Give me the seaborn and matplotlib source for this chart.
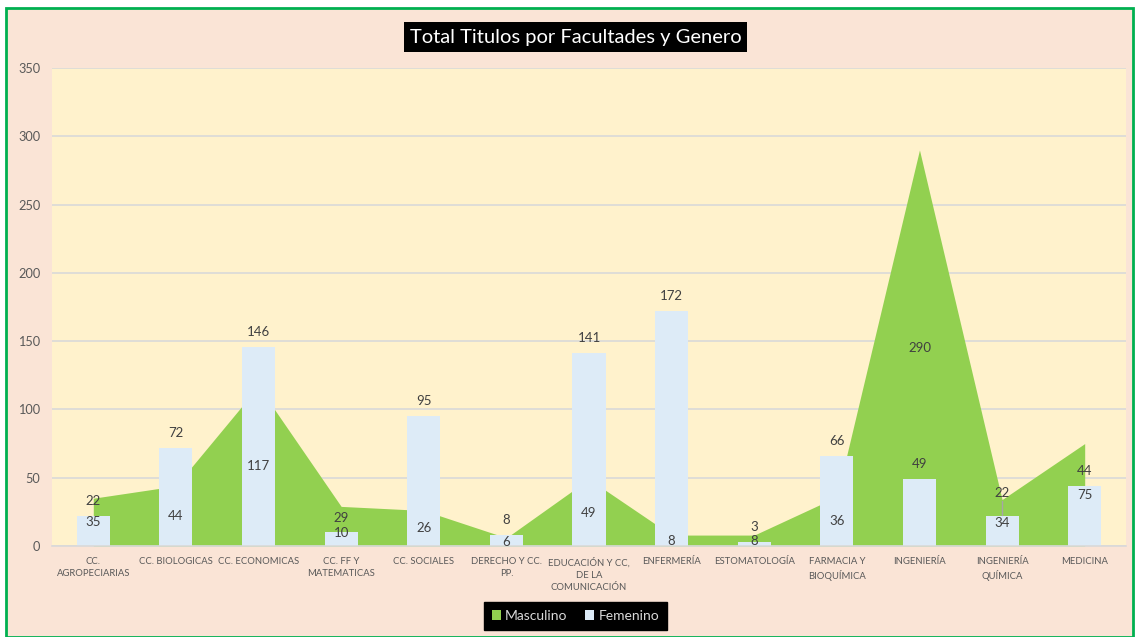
import numpy as np
import pandas as pd
import matplotlib
matplotlib.use("Agg")
import matplotlib.pyplot as plt
from matplotlib.patches import Rectangle, Patch
import seaborn as sns

# data
facultades = [
    "CC.\nAGROPECIARIAS", "CC. BIOLOGICAS", "CC. ECONOMICAS", "CC. FF Y\nMATEMATICAS",
    "CC. SOCIALES", "DERECHO Y CC.\nPP.", "EDUCACIÓN Y CC,\nDE LA\nCOMUNICACIÓN",
    "ENFERMERÍA", "ESTOMATOLOGÍA", "FARMACIA Y\nBIOQUÍMICA", "INGENIERÍA",
    "INGENIERÍA\nQUÍMICA", "MEDICINA",
]
masculino = [35, 44, 117, 29, 26, 6, 49, 8, 8, 36, 290, 34, 75]
femenino = [22, 72, 146, 10, 95, 8, 141, 172, 3, 66, 49, 22, 44]
y_ticks = [0, 50, 100, 150, 200, 250, 300, 350]

GREEN = "#92D050"
BLUE = "#DDEBF7"
PLOT_BG = "#FFF2CC"
FIG_BG = "#FAE4D6"
TXT = "#595959"
LBL = "#404040"

sns.set_theme(style="white")
plt.rcParams['font.family'] = ['Lato', 'DejaVu Sans']

df = pd.DataFrame({"facultad": facultades, "Masculino": masculino, "Femenino": femenino})

fig = plt.figure(figsize=(11.35, 6.37), dpi=100)
fig.patch.set_facecolor("white")
# pink panel with green border
fig.patches.append(Rectangle((6 / 1135, 0), 1127 / 1135, 629 / 637, transform=fig.transFigure,
                             facecolor=FIG_BG, edgecolor="#00B050", linewidth=2, zorder=-10))

ax = fig.add_axes([52 / 1135, 91 / 637, 1074 / 1135, 478 / 637])
ax.set_facecolor(PLOT_BG)

x = np.arange(len(facultades))
ax.fill_between(x, 0, df["Masculino"], color=GREEN, linewidth=0, zorder=1)
sns.barplot(data=df, x="facultad", y="Femenino", color=BLUE, width=0.4,
            saturation=1, ax=ax, zorder=2, edgecolor="none")

ax.set_xlim(-0.5, len(facultades) - 0.5)
ax.set_ylim(0, 350)
ax.set_yticks(y_ticks)
ax.yaxis.grid(True, color="#D9D9D9", linewidth=1.2, zorder=0)
ax.set_axisbelow(True)
for s in ["top", "right", "left"]:
    ax.spines[s].set_visible(False)
ax.spines["bottom"].set_color("#D9D9D9")
ax.spines["bottom"].set_linewidth(1.2)
ax.set_xlabel("")
ax.set_ylabel("")
ax.tick_params(axis="y", colors=TXT, labelsize=9.2, length=0, pad=8.5)
ax.tick_params(axis="x", colors=TXT, labelsize=6.8, length=0, pad=8)
for lbl in ax.get_xticklabels():
    lbl.set_linespacing(1.45)
    lbl.set_verticalalignment("top")

# data labels (a few were nudged by hand in the original)
fem_pos = {3: 9.5, 11: 39}
mas_pos = {3: 20.5}
for i, (m, f) in enumerate(zip(masculino, femenino)):
    fy = fem_pos.get(i, f + 11)
    ax.text(i, fy, str(f), ha="center", va="center", fontsize=9.5, color=LBL, zorder=5)
    ax.text(i, mas_pos.get(i, max(m / 2, 3)), str(m), ha="center", va="center",
            fontsize=9.5, color=LBL, zorder=5)
# leader line of the moved label
ax.plot([11, 11], [femenino[11] + 0.5, fem_pos[11] - 6], color="#A6A6A6", lw=1, zorder=4)

fig.text(0.507, 1 - 37 / 637, "Total Titulos por Facultades y Genero", ha="center", va="center",
         fontsize=14.5, color="white",
         bbox=dict(boxstyle="square,pad=0.3", facecolor="black", edgecolor="none"))

handles = [Patch(facecolor=GREEN, edgecolor="none", label="Masculino"),
           Patch(facecolor=BLUE, edgecolor="none", label="Femenino")]
leg = fig.legend(handles=handles, loc="center", bbox_to_anchor=(0.507, 21 / 637), ncol=2,
                 frameon=True, fancybox=False, framealpha=1, fontsize=10, handlelength=0.65,
                 handleheight=0.65, handletextpad=0.3, columnspacing=1.3, borderpad=0.55)
leg.get_frame().set_facecolor("black")
leg.get_frame().set_edgecolor("black")
for t in leg.get_texts():
    t.set_color("#D9D9D9")

fig.savefig("out.png", dpi=100, facecolor=fig.get_facecolor())
